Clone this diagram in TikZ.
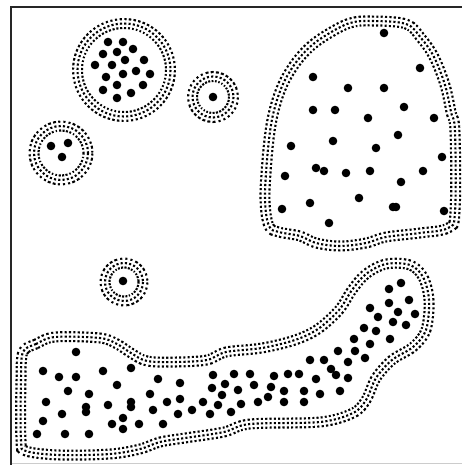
\documentclass[tikz,border=0pt]{standalone}
\usepackage{tikz}
\tikzset{
  ring/.style={draw=white, line width=6.6pt,
    preaction={draw=black, line width=11pt, dash pattern=on 2.1pt off 2.2pt},
    postaction={draw=black, line width=2.1pt, dash pattern=on 2.1pt off 2.2pt}},
  pt/.style={fill=black}
}
\begin{document}
\begin{tikzpicture}[x=1pt, y=-1pt]
  \useasboundingbox (0,0) rectangle (462,465);
  % cadre
  \draw[black!20, line width=1pt] (11,463) -- (462,463);
  \draw[black!85, line width=2.5pt] (11,465) -- (11,7) -- (462,7);

  % enveloppes des amas
  \draw[ring] (124,70) circle (46.5);
  \draw[ring] (213,97) circle (20.5);
  \draw[ring] (61,153) circle (27);
  \draw[ring] (124,282) circle (19);
  \draw[ring] plot[smooth cycle, tension=0.6] coordinates {
    (372,21) (406,24) (421,38) (434,57) (445,85) (451,112) (455,132) (455,212)
    (448,228) (420,233) (386,237) (366,243) (340,246) (316,243) (300,236)
    (279,232) (269,226) (265,200) (267,160) (271,125) (277,100) (285,80)
    (297,61) (311,46) (328,34) (350,23)};
  \draw[ring] plot[smooth cycle, tension=0.55] coordinates {
    (23,352) (36,344) (55,337) (100,338) (117,344) (131,353) (147,361) (176,362)
    (207,360) (226,352) (262,348) (295,340) (318,329) (339,310) (352,290)
    (366,274) (386,264) (410,265) (423,277) (429,300) (426,330) (413,347)
    (392,360) (376,378) (366,400) (353,413) (320,422) (250,424) (224,432)
    (185,438) (160,442) (140,449) (110,454) (60,455) (26,451) (21,440) (21,380)};

  % amas en haut a gauche
  \fill[pt] (108,42) circle (4.3); \fill[pt] (123,42) circle (4.3); \fill[pt] (133,49) circle (4.3);
  \fill[pt] (103,54) circle (4.3); \fill[pt] (117,52) circle (4.3); \fill[pt] (125,60) circle (4.3);
  \fill[pt] (144,60) circle (4.3); \fill[pt] (95,65) circle (4.3); \fill[pt] (112,65) circle (4.3);
  \fill[pt] (136,71) circle (4.3); \fill[pt] (150,74) circle (4.3); \fill[pt] (106,77) circle (4.3);
  \fill[pt] (123,74) circle (4.3); \fill[pt] (117,85) circle (4.3); \fill[pt] (143,85) circle (4.3);
  \fill[pt] (103,90) circle (4.3); \fill[pt] (131,93) circle (4.3); \fill[pt] (117,98) circle (4.3);
  % petits amas
  \fill[pt] (213,97) circle (4.3);
  \fill[pt] (51,146) circle (4.3); \fill[pt] (68,143) circle (4.3); \fill[pt] (62,157) circle (4.3);
  \fill[pt] (123,281) circle (4.3);

  % amas en haut a droite
  \fill[pt] (384,33) circle (4.3); \fill[pt] (420,68) circle (4.3); \fill[pt] (313,77) circle (4.3);
  \fill[pt] (348,88) circle (4.3); \fill[pt] (384,88) circle (4.3); \fill[pt] (313,110) circle (4.3);
  \fill[pt] (335,110) circle (4.3); \fill[pt] (404,107) circle (4.3); \fill[pt] (368,118) circle (4.3);
  \fill[pt] (434,118) circle (4.3); \fill[pt] (398,135) circle (4.3); \fill[pt] (291,146) circle (4.3);
  \fill[pt] (333,141) circle (4.3); \fill[pt] (376,148) circle (4.3); \fill[pt] (442,157) circle (4.3);
  \fill[pt] (316,168) circle (4.3); \fill[pt] (324,171) circle (4.3); \fill[pt] (285,176) circle (4.3);
  \fill[pt] (346,173) circle (4.3); \fill[pt] (370,171) circle (4.3); \fill[pt] (423,171) circle (4.3);
  \fill[pt] (401,182) circle (4.3); \fill[pt] (359,198) circle (4.3); \fill[pt] (310,203) circle (4.3);
  \fill[pt] (282,209) circle (4.3); \fill[pt] (393,207) circle (4.3); \fill[pt] (396,207) circle (4.3);
  \fill[pt] (444,211) circle (4.3); \fill[pt] (329,223) circle (4.3);

  % amas allonge en bas
  \fill[pt] (76,352) circle (4.3); \fill[pt] (43,371) circle (4.3); \fill[pt] (59,377) circle (4.3);
  \fill[pt] (76,377) circle (4.3); \fill[pt] (103,371) circle (4.3); \fill[pt] (131,368) circle (4.3);
  \fill[pt] (117,385) circle (4.3); \fill[pt] (68,391) circle (4.3); \fill[pt] (89,394) circle (4.3);
  \fill[pt] (158,379) circle (4.3); \fill[pt] (180,383) circle (4.3); \fill[pt] (213,375) circle (4.3);
  \fill[pt] (212,388) circle (4.3); \fill[pt] (225,384) circle (4.3); \fill[pt] (222,395) circle (4.3);
  \fill[pt] (150,394) circle (4.3); \fill[pt] (46,402) circle (4.3); \fill[pt] (108,405) circle (4.3);
  \fill[pt] (131,402) circle (4.3); \fill[pt] (131,407) circle (4.3); \fill[pt] (86,407) circle (4.3);
  \fill[pt] (86,412) circle (4.3); \fill[pt] (167,402) circle (4.3); \fill[pt] (180,399) circle (4.3);
  \fill[pt] (203,402) circle (4.3); \fill[pt] (62,414) circle (4.3); \fill[pt] (153,410) circle (4.3);
  \fill[pt] (178,414) circle (4.3); \fill[pt] (192,410) circle (4.3); \fill[pt] (210,414) circle (4.3);
  \fill[pt] (218,405) circle (4.3); \fill[pt] (43,421) circle (4.3); \fill[pt] (112,424) circle (4.3);
  \fill[pt] (123,418) circle (4.3); \fill[pt] (123,429) circle (4.3); \fill[pt] (139,424) circle (4.3);
  \fill[pt] (163,424) circle (4.3); \fill[pt] (37,434) circle (4.3); \fill[pt] (65,434) circle (4.3);
  \fill[pt] (89,434) circle (4.3);
  \fill[pt] (401,283) circle (4.3); \fill[pt] (389,289) circle (4.3); \fill[pt] (409,300) circle (4.3);
  \fill[pt] (389,303) circle (4.3); \fill[pt] (370,308) circle (4.3); \fill[pt] (415,314) circle (4.3);
  \fill[pt] (378,317) circle (4.3); \fill[pt] (398,312) circle (4.3); \fill[pt] (393,322) circle (4.3);
  \fill[pt] (406,325) circle (4.3); \fill[pt] (364,328) circle (4.3); \fill[pt] (376,331) circle (4.3);
  \fill[pt] (390,339) circle (4.3); \fill[pt] (354,339) circle (4.3); \fill[pt] (370,344) circle (4.3);
  \fill[pt] (338,351) circle (4.3); \fill[pt] (355,351) circle (4.3); \fill[pt] (348,362) circle (4.3);
  \fill[pt] (365,358) circle (4.3); \fill[pt] (310,360) circle (4.3); \fill[pt] (324,360) circle (4.3);
  \fill[pt] (331,369) circle (4.3); \fill[pt] (336,375) circle (4.3); \fill[pt] (348,378) circle (4.3);
  \fill[pt] (234,374) circle (4.3); \fill[pt] (250,374) circle (4.3); \fill[pt] (274,376) circle (4.3);
  \fill[pt] (288,374) circle (4.3); \fill[pt] (299,374) circle (4.3); \fill[pt] (316,379) circle (4.3);
  \fill[pt] (254,385) circle (4.3); \fill[pt] (238,390) circle (4.3); \fill[pt] (271,387) circle (4.3);
  \fill[pt] (284,391) circle (4.3); \fill[pt] (284,402) circle (4.3); \fill[pt] (304,391) circle (4.3);
  \fill[pt] (304,402) circle (4.3); \fill[pt] (320,394) circle (4.3); \fill[pt] (340,391) circle (4.3);
  \fill[pt] (268,397) circle (4.3); \fill[pt] (258,402) circle (4.3); \fill[pt] (241,404) circle (4.3);
  \fill[pt] (231,412) circle (4.3);
\end{tikzpicture}
\end{document}
